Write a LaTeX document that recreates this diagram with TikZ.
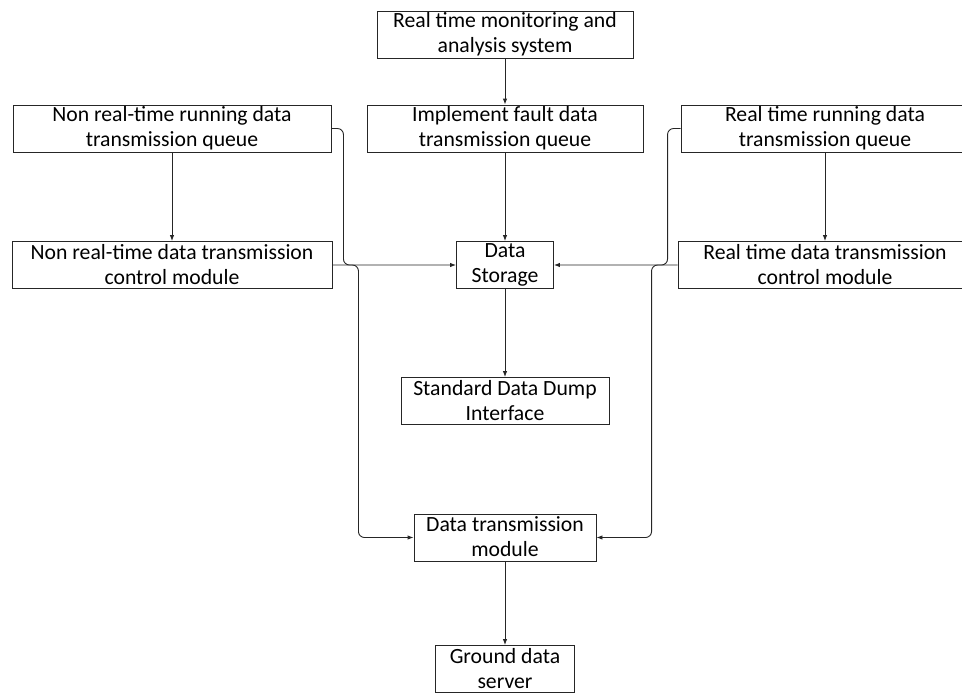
\documentclass[tikz,border=0pt]{standalone}
\usepackage{fontspec}
\setmainfont{Carlito}
\usetikzlibrary{arrows,arrows.meta,positioning}
\tikzset{every node/.append style={font=\fontsize{21.7pt}{25pt}\selectfont}}
\tikzset{ModuleBox/.style={draw=black!85, line width=0.9pt, rectangle,
    align=center, inner sep=0pt, minimum height=47pt,
    execute at begin node={\rule{0pt}{20pt}},
    execute at end node={\rule[-2pt]{0pt}{2pt}}}}
\tikzset{FlowArrow/.style={-{Latex[length=6pt,width=4.5pt]}, draw=black!85,
    line width=0.9pt}}
\tikzset{BendArrow/.style={FlowArrow, rounded corners=6pt}}

\begin{document}
\begin{tikzpicture}[x=1pt,y=-1pt]
  \useasboundingbox (0,0) rectangle (962,694);
  \clip (0,0) rectangle (962,694);
  % middle column
  \node[ModuleBox, minimum width=256pt] (monitor) at (505,34.5)
    {Real time monitoring and\\analysis system};
  \node[ModuleBox, minimum width=276pt] (faultq) at (505,128.5)
    {Implement fault data\\transmission queue};
  \node[ModuleBox, minimum width=97pt] (storage) at (505,265)
    {Data\\Storage};
  \node[ModuleBox, minimum width=208pt] (dump) at (505,401)
    {Standard Data Dump\\Interface};
  \node[ModuleBox, minimum width=182pt] (transmod) at (505,537.5)
    {Data transmission\\module};
  \node[ModuleBox, minimum width=139pt] (ground) at (505,669)
    {Ground data\\server};
  % left column
  \node[ModuleBox, minimum width=318pt] (nrtqueue) at (172,128.5)
    {Non real-time running data\\transmission queue};
  \node[ModuleBox, minimum width=320pt] (nrtctrl) at (172,265)
    {Non real-time data transmission\\control module};
  % right column
  \node[ModuleBox, minimum width=288pt] (rtqueue) at (825,128.5)
    {Real time running data\\transmission queue};
  \node[ModuleBox, minimum width=294pt] (rtctrl) at (825,265)
    {Real time data transmission\\control module};

  \draw[FlowArrow] (monitor) -- (faultq);
  \draw[FlowArrow] (faultq) -- (storage);
  \draw[FlowArrow] (storage) -- (dump);
  \draw[FlowArrow] (transmod) -- (ground);
  \draw[FlowArrow] (nrtqueue) -- (nrtctrl);
  \draw[FlowArrow] (rtqueue) -- (rtctrl);

  \draw[BendArrow] (nrtqueue.east) -- ++(12,0) |- (storage.west);
  \draw[BendArrow] (nrtctrl.east) -- ++(26,0) |- (transmod.west);
  \draw[BendArrow] (rtqueue.west) -- ++(-13,0) |- (storage.east);
  \draw[BendArrow] (rtctrl.west) -- ++(-26,0) |- (transmod.east);
\end{tikzpicture}
\end{document}
